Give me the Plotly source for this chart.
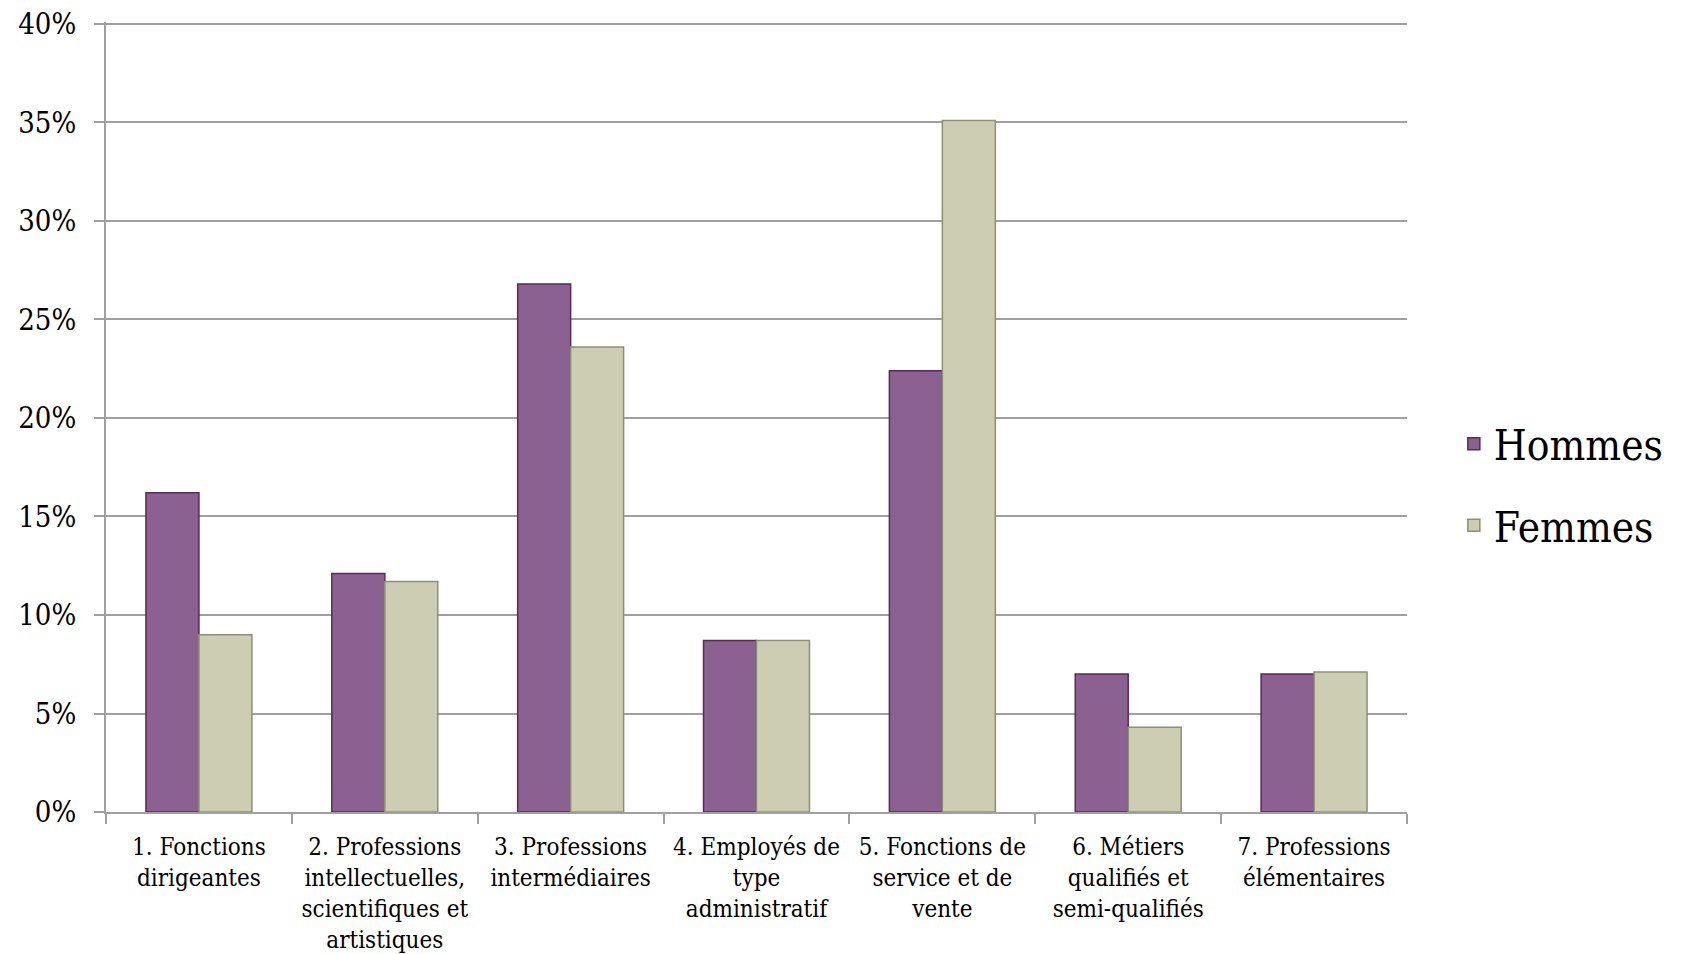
import plotly.graph_objects as go

categories = [
    "1. Fonctions<br>dirigeantes",
    "2. Professions<br>intellectuelles,<br>scientifiques et<br>artistiques",
    "3. Professions<br>intermédiaires",
    "4. Employés de<br>type<br>administratif",
    "5. Fonctions de<br>service et de<br>vente",
    "6. Métiers<br>qualifiés et<br>semi-qualifiés",
    "7. Professions<br>élémentaires",
]
hommes = [0.162, 0.121, 0.268, 0.087, 0.224, 0.070, 0.070]
femmes = [0.090, 0.117, 0.236, 0.087, 0.351, 0.043, 0.071]
y_ticks = [0, 0.05, 0.10, 0.15, 0.20, 0.25, 0.30, 0.35, 0.40]
y_labels = ["0%", "5%", "10%", "15%", "20%", "25%", "30%", "35%", "40%"]

FONT = "DejaVu Serif Condensed, DejaVu Serif, Liberation Serif, serif"

fig = go.Figure()
fig.add_trace(go.Bar(
    x=categories, y=hommes, name="Hommes", legendgroup="h",
    marker=dict(color="#8a6190", line=dict(color="#5a2a57", width=1.5)),
))
fig.add_trace(go.Bar(
    x=categories, y=femmes, name="Femmes", legendgroup="f",
    marker=dict(color="#cdcdb3", line=dict(color="#8e8e78", width=1.5)),
))

fig.update_layout(
    width=1679, height=946,
    margin=dict(l=98, r=280, t=14, b=142),
    paper_bgcolor="white", plot_bgcolor="white",
    barmode="group", bargap=0.43, bargroupgap=0,
    font=dict(family=FONT, color="black"),
    legend=dict(
        x=1.036, y=0.414, xanchor="left", yanchor="middle",
        font=dict(size=42, family=FONT), tracegroupgap=24,
        itemwidth=30,
    ),
    showlegend=True,
)
fig.update_xaxes(
    showline=True, linecolor="#a0a0a0", linewidth=2,
    ticks="outside", ticklen=10, tickcolor="#a0a0a0", tickwidth=2,
    tickson="boundaries", showgrid=False, automargin=False,
    ticklabelstandoff=12, ticklabeloverflow="allow",
    tickfont=dict(size=24, family=FONT),
)
fig.update_yaxes(
    range=[0, 0.401], tickvals=y_ticks, ticktext=y_labels,
    showline=True, linecolor="#a0a0a0", linewidth=2,
    ticks="outside", ticklen=10, tickcolor="#a0a0a0", tickwidth=2,
    showgrid=True, gridcolor="#a0a0a0", gridwidth=2,
    zeroline=False, ticklabelstandoff=12, automargin=False,
    ticklabeloverflow="allow",
    tickfont=dict(size=29, family=FONT),
)

fig.write_html("out.html")
